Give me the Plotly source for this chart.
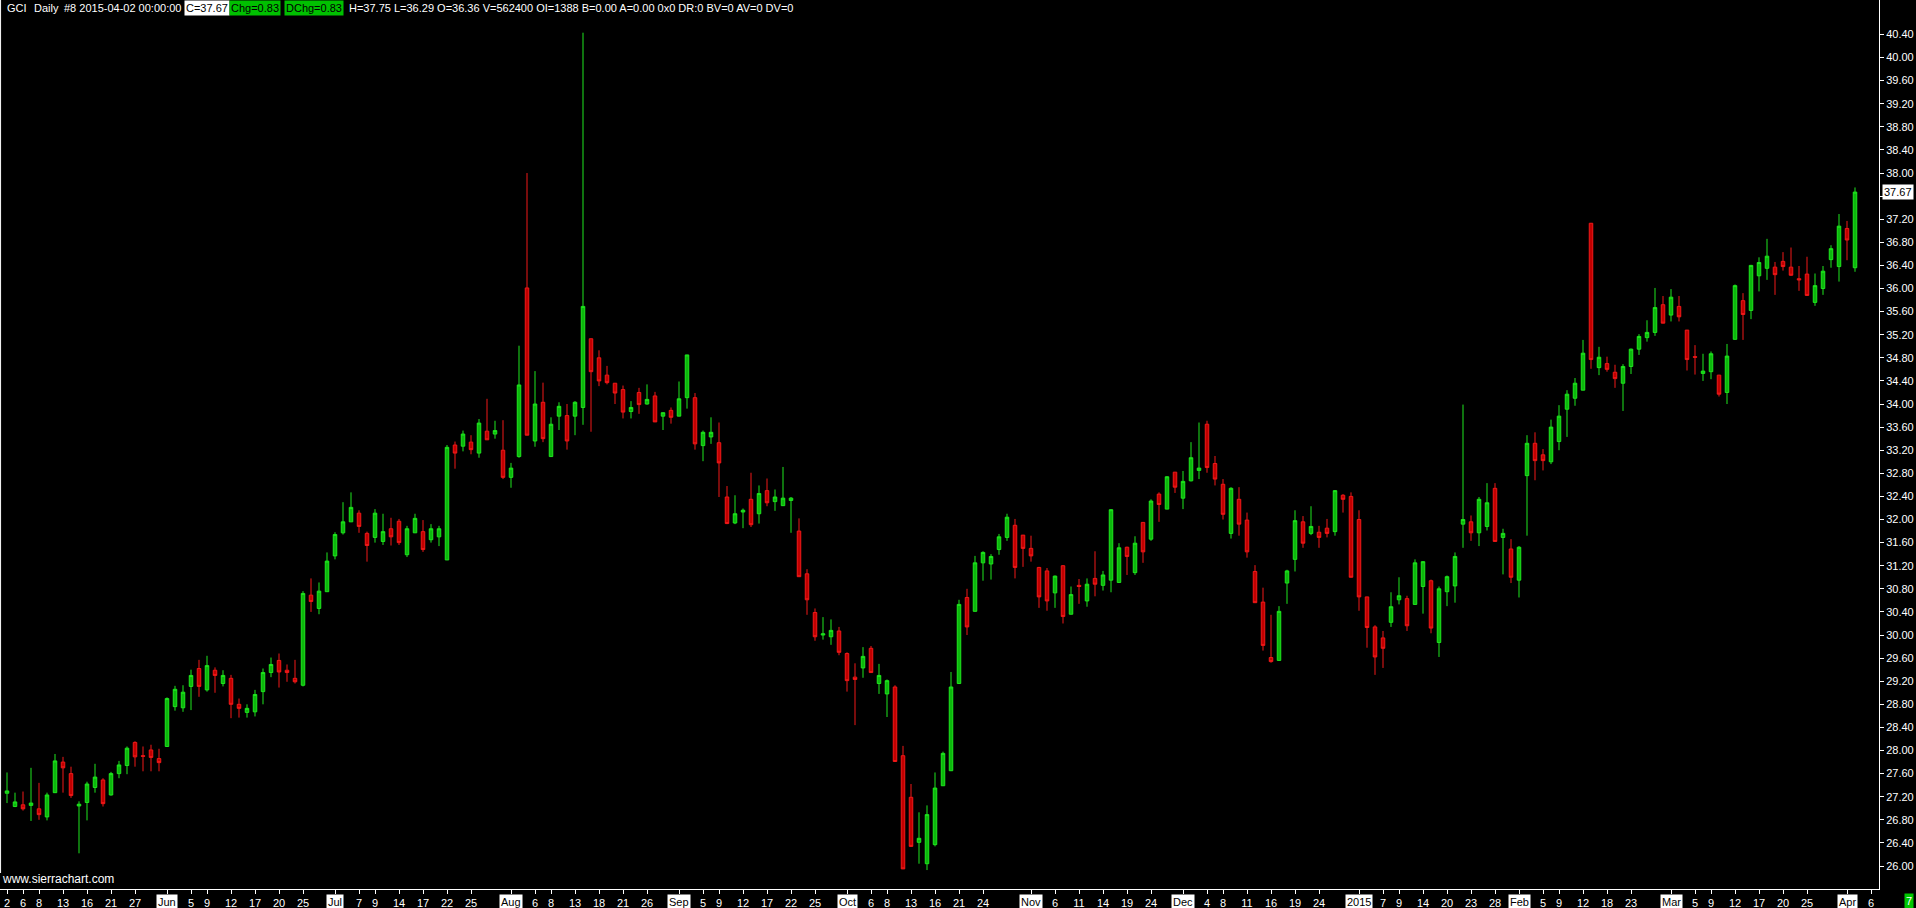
import pandas as pd
import plotly.graph_objects as go

# ---------------- data ----------------
opens = [27.26,27.03,27.06,27.05,26.99,26.85,27.27,27.80,27.60,27.04,27.10,27.36,27.49,27.23,27.60,27.74,28.14,27.91,28.01,27.86,
         28.07,28.76,28.74,29.11,29.42,29.05,29.39,29.16,29.25,28.80,28.66,28.67,29.02,29.35,29.56,29.39,29.25,29.13,30.69,30.46,
         30.75,31.37,31.77,31.96,32.11,31.76,31.69,31.62,31.84,31.97,31.39,31.77,31.79,31.65,31.70,31.30,33.29,33.27,33.34,33.15,
         33.53,33.48,33.20,32.73,33.09,36.01,33.36,34.03,33.09,33.79,33.80,33.79,33.94,35.13,34.80,34.50,34.36,34.25,33.87,34.20,
         34.00,34.14,33.79,33.89,33.79,34.11,34.11,33.28,33.43,33.33,32.39,31.94,32.13,32.35,32.10,32.50,32.31,32.24,32.33,31.80,
         31.06,30.39,30.00,29.97,30.07,29.68,29.27,29.43,29.77,29.16,28.98,29.10,27.91,27.19,26.41,26.04,26.37,27.39,27.65,29.16,
         30.65,30.41,31.25,31.23,31.48,31.69,31.90,31.73,31.50,31.17,31.11,30.73,31.20,30.36,30.86,30.59,30.98,30.86,30.95,30.91,
         31.52,31.08,31.95,31.66,32.44,32.18,32.82,32.37,32.67,32.85,33.65,32.97,32.61,31.76,32.35,31.99,31.10,30.57,29.61,29.56,
         30.90,31.31,31.96,31.76,31.78,31.85,31.79,32.42,32.40,32.00,30.66,30.14,29.95,30.22,30.61,30.63,30.53,30.84,30.94,29.87,
         30.75,30.85,31.92,31.96,31.77,31.88,32.54,31.69,31.49,30.95,32.76,33.32,33.12,33.00,33.35,33.91,34.10,34.24,37.13,34.63,
         34.70,34.55,34.36,34.65,34.95,35.15,35.24,35.72,35.54,35.69,35.28,34.82,34.53,34.56,34.50,34.20,35.12,35.79,35.62,36.22,
         36.35,36.37,36.47,36.37,36.17,36.25,35.76,36.00,36.50,36.38,37.04,36.36]
highs = [27.62,27.27,27.29,27.70,27.44,27.27,27.94,27.89,27.72,27.12,27.46,27.77,27.52,27.63,27.82,28.07,28.16,28.07,28.10,28.03,
         28.92,29.12,29.13,29.40,29.57,29.64,29.44,29.39,29.31,28.90,28.80,29.05,29.42,29.61,29.68,29.49,29.57,30.76,30.98,30.91,
         31.43,31.78,32.30,32.47,32.16,31.79,32.18,32.10,32.03,32.01,31.89,32.10,31.99,31.92,31.89,33.29,33.35,33.54,33.46,33.74,
         34.09,33.71,33.72,32.98,35.01,38.00,34.57,34.37,33.77,34.03,34.00,34.05,40.43,35.13,34.93,34.66,34.36,34.32,34.05,34.28,
         34.34,34.21,33.85,33.94,34.39,34.85,34.19,33.54,33.77,33.68,32.58,32.42,32.19,32.81,32.59,32.71,32.52,32.91,32.39,32.02,
         31.14,30.46,30.31,30.27,30.14,29.70,29.51,29.79,29.81,29.50,29.23,29.13,28.08,27.42,26.93,27.05,27.62,27.98,29.36,30.61,
         30.80,31.37,31.45,31.40,31.75,32.10,32.01,31.73,31.72,31.18,31.16,31.03,31.21,30.84,30.97,30.98,31.45,31.11,32.18,31.59,
         31.53,31.71,31.95,32.35,32.47,32.75,32.82,32.84,33.34,33.68,33.71,33.10,32.70,32.56,32.56,32.12,31.21,30.82,30.35,30.50,
         31.13,32.16,32.06,32.23,31.89,32.01,32.51,32.44,32.47,32.16,30.66,30.17,30.07,30.74,31.00,30.68,31.31,31.28,30.96,30.84,
         31.03,31.43,33.99,32.07,32.39,32.63,32.63,31.84,31.66,31.54,33.46,33.51,33.22,33.73,33.98,34.24,34.45,35.11,37.13,34.99,
         34.82,34.68,34.69,34.96,35.21,35.45,36.01,35.87,35.99,35.87,35.28,35.02,34.87,34.91,34.50,35.04,36.07,35.92,36.41,36.54,
         36.86,36.46,36.63,36.71,36.39,36.55,36.26,36.39,36.75,37.29,37.17,37.75]
lows = [27.09,27.02,26.96,26.78,26.80,26.79,27.27,27.27,27.18,26.22,26.79,27.27,27.03,27.22,27.52,27.59,27.72,27.64,27.64,27.64,
        28.07,28.69,28.67,28.70,28.93,29.02,29.00,29.11,28.56,28.57,28.57,28.59,28.80,29.27,29.09,29.19,29.16,29.11,30.40,30.36,
        30.75,31.31,31.74,31.96,31.77,31.27,31.60,31.56,31.55,31.56,31.35,31.77,31.44,31.60,31.54,31.30,32.88,33.18,33.13,33.07,
        33.38,33.40,32.70,32.55,33.07,33.46,33.26,33.34,33.09,33.55,33.21,33.46,33.64,33.52,34.31,34.34,34.00,33.75,33.75,33.83,
        33.99,33.69,33.55,33.66,33.79,33.92,33.21,33.01,33.31,32.39,31.92,31.92,31.85,31.87,31.93,32.23,32.15,32.24,31.77,31.01,
        30.35,29.90,29.92,29.83,29.65,29.02,28.44,29.26,29.35,28.98,28.58,27.81,25.95,26.34,26.04,25.93,26.34,27.39,27.65,29.16,
        30.00,30.41,30.94,30.96,31.39,31.63,30.98,31.18,31.27,30.47,30.42,30.47,30.20,30.36,30.54,30.49,30.67,30.77,30.74,30.91,
        31.04,31.04,31.25,31.63,31.96,32.18,32.46,32.18,32.66,32.70,32.81,32.59,32.00,31.67,31.72,31.34,30.56,29.73,29.52,29.56,
        30.54,31.10,31.51,31.73,31.51,31.69,31.72,32.12,31.00,30.42,29.78,29.31,29.43,30.14,30.53,30.07,30.53,30.37,30.03,29.62,
        30.50,30.56,31.51,31.63,31.54,31.81,31.62,31.05,30.90,30.65,31.72,32.68,32.85,32.96,33.20,33.43,33.97,34.24,34.61,34.50,
        34.56,34.28,33.88,34.52,34.85,35.08,35.18,35.40,35.43,35.43,34.58,34.51,34.40,34.43,34.13,34.00,35.12,35.11,35.47,35.95,
        36.15,35.89,36.31,36.22,35.96,35.88,35.70,35.89,36.36,36.12,36.49,36.29]
closes = [27.30,27.11,26.99,27.09,26.89,27.23,27.82,27.70,27.22,27.07,27.42,27.54,27.08,27.60,27.75,28.04,27.89,27.90,27.88,27.79,
          28.90,29.06,29.01,29.30,29.11,29.47,29.30,29.30,28.80,28.73,28.73,28.97,29.35,29.49,29.36,29.35,29.19,30.72,30.58,30.76,
          31.28,31.74,31.96,32.21,31.88,31.55,32.11,31.79,31.70,31.60,31.84,32.02,31.48,31.84,31.84,33.25,33.15,33.48,33.21,33.67,
          33.38,33.54,32.73,32.89,34.33,33.46,34.00,33.40,33.65,33.96,33.36,34.03,35.69,34.56,34.40,34.37,34.19,33.86,33.94,33.99,
          34.08,33.69,33.85,33.77,34.09,34.85,33.31,33.51,33.51,32.98,31.93,32.10,32.16,31.91,32.45,32.29,32.39,32.37,32.37,31.01,
          30.61,29.97,30.02,30.08,29.70,29.21,29.23,29.63,29.35,29.30,29.21,27.81,25.95,26.34,26.48,26.89,27.35,27.95,29.10,30.53,
          30.14,31.25,31.43,31.36,31.70,32.04,31.17,31.50,31.37,30.66,30.59,31.02,30.32,30.70,30.84,30.88,30.88,31.04,32.17,31.51,
          31.36,31.59,31.44,32.32,32.26,32.74,32.56,32.66,33.07,32.89,32.90,32.70,32.09,32.54,31.92,31.44,30.56,29.82,29.54,30.41,
          31.11,31.98,31.59,31.88,31.69,31.76,32.50,32.35,31.00,30.66,30.13,29.62,29.77,30.49,30.68,30.16,31.25,31.27,30.12,30.80,
          31.01,31.36,32.00,31.77,32.35,32.29,31.62,31.76,31.00,31.52,33.32,33.02,33.02,33.60,33.79,34.17,34.36,34.88,34.77,34.81,
          34.60,34.44,34.65,34.95,35.17,35.24,35.67,35.40,35.85,35.51,34.77,34.81,34.57,34.87,34.17,34.83,36.05,35.55,36.40,36.45,
          36.56,36.24,36.38,36.23,36.15,35.88,36.05,36.30,36.69,37.08,36.84,37.67]

symbol = "GCI"
volume = 562400
open_interest = 1388

holidays = ["2014-05-26", "2014-07-04", "2014-09-01", "2014-11-27", "2014-12-25",
            "2015-01-01", "2015-01-19", "2015-02-16"]
dates = [d.strftime("%Y-%m-%d") for d in pd.bdate_range("2014-05-02", "2015-04-02")
         if d.strftime("%Y-%m-%d") not in holidays]
future_dates = ["2015-04-03", "2015-04-06"]
all_dates = dates + future_dates

tick_dates = ["2014-05-02", "2014-05-06", "2014-05-08", "2014-05-13", "2014-05-16", "2014-05-21", "2014-05-27",
              "2014-06-02", "2014-06-05", "2014-06-09", "2014-06-12", "2014-06-17", "2014-06-20", "2014-06-25",
              "2014-07-01", "2014-07-07", "2014-07-09", "2014-07-14", "2014-07-17", "2014-07-22", "2014-07-25",
              "2014-08-01", "2014-08-06", "2014-08-08", "2014-08-13", "2014-08-18", "2014-08-21", "2014-08-26",
              "2014-09-02", "2014-09-05", "2014-09-09", "2014-09-12", "2014-09-17", "2014-09-22", "2014-09-25",
              "2014-10-01", "2014-10-06", "2014-10-08", "2014-10-13", "2014-10-16", "2014-10-21", "2014-10-24",
              "2014-11-03", "2014-11-06", "2014-11-11", "2014-11-14", "2014-11-19", "2014-11-24",
              "2014-12-01", "2014-12-04", "2014-12-08", "2014-12-11", "2014-12-16", "2014-12-19", "2014-12-24",
              "2015-01-02", "2015-01-07", "2015-01-09", "2015-01-14", "2015-01-20", "2015-01-23", "2015-01-28",
              "2015-02-02", "2015-02-05", "2015-02-09", "2015-02-12", "2015-02-18", "2015-02-23",
              "2015-03-02", "2015-03-05", "2015-03-09", "2015-03-12", "2015-03-17", "2015-03-20", "2015-03-25",
              "2015-04-01", "2015-04-06"]
month_labels = {"2014-06-02": "Jun", "2014-07-01": "Jul", "2014-08-01": "Aug", "2014-09-02": "Sep",
                "2014-10-01": "Oct", "2014-11-03": "Nov", "2014-12-01": "Dec", "2015-01-02": "2015",
                "2015-02-02": "Feb", "2015-03-02": "Mar", "2015-04-01": "Apr"}
current_day_label = "7"

price_ticks = [round(26.00 + 0.40 * k, 2) for k in range(37)]

# ---------------- figure ----------------
idx = list(range(len(dates)))
pos = {d: i for i, d in enumerate(all_dates)}
tick_idx = [pos[d] for d in tick_dates]
tick_text = ["" if d in month_labels else str(int(d[-2:])) for d in tick_dates]

W, H = 1916, 908
ML, MR, MT, MB = 0, 37, 0, 19
PW, PH = W - ML - MR, H - MT - MB
FONT = "Liberation Sans, Arial, sans-serif"

fig = go.Figure(go.Candlestick(
    x=idx, open=opens, high=highs, low=lows, close=closes,
    increasing=dict(line=dict(color="#1ee61e", width=1), fillcolor="#0cb80c"),
    decreasing=dict(line=dict(color="#f01818", width=1), fillcolor="#c20000"),
    whiskerwidth=0, hoverinfo="skip"))

fig.update_layout(
    width=W, height=H, margin=dict(l=ML, r=MR, t=MT, b=MB),
    paper_bgcolor="black", plot_bgcolor="black", showlegend=False, boxgap=0.375,
    font=dict(family=FONT, size=11, color="white"))

# the 37.60 label sits under the current-price box in the reference
last_close = closes[-1]
y_text = ["" if abs(v - last_close) < 0.1 else f"{v:.2f}" for v in price_ticks]

fig.update_xaxes(range=[-0.875, 234.0], rangeslider_visible=False, tickmode="array",
                 tickvals=tick_idx, ticktext=tick_text, ticks="outside", ticklen=4, tickcolor="white",
                 showline=True, linecolor="white", linewidth=1, showgrid=False, zeroline=False,
                 tickfont=dict(family=FONT, size=11, color="white"))
fig.update_yaxes(side="right", range=[25.602, 40.996], tickmode="array", tickvals=price_ticks,
                 ticktext=y_text, ticks="outside", ticklen=4, tickcolor="white",
                 showline=True, linecolor="white", linewidth=1, showgrid=False, zeroline=False,
                 tickfont=dict(family=FONT, size=11, color="white"))

ann = []
for d, lab in month_labels.items():
    ann.append(dict(x=pos[d], xref="x", y=0, yref="paper", yanchor="top", yshift=-5,
                    text=lab, showarrow=False, bgcolor="white", borderpad=1,
                    font=dict(family=FONT, size=11, color="black")))

# current price box
ann.append(dict(x=1, xref="paper", xanchor="left", xshift=3, y=last_close, yref="y",
                text=f"{last_close:.2f}", showarrow=False, bgcolor="white", borderpad=1,
                font=dict(family=FONT, size=11, color="black")))
# current day marker
ann.append(dict(x=1908.5 / PW, xref="paper", xanchor="center", y=0, yref="paper", yanchor="top", yshift=-4,
                text=current_day_label, showarrow=False, bgcolor="#00c800", borderpad=1,
                font=dict(family=FONT, size=11, color="white")))
# watermark
ann.append(dict(x=0, xref="paper", xanchor="left", xshift=0, y=0, yref="paper", yanchor="bottom", yshift=1,
                text="www.sierrachart.com", showarrow=False,
                font=dict(family=FONT, size=12, color="white")))

# header
chg = closes[-1] - closes[-2]
header = [
    (5, symbol, None, "white"),
    (32, "Daily", None, "white"),
    (62, "#8 " + dates[-1] + " 00:00:00", None, "white"),
    (184, f"C={closes[-1]:.2f}", "white", "black"),
    (229, f"Chg={chg:.2f}", "#00c000", "black"),
    (284, f"DChg={chg:.2f}", "#00c000", "black"),
    (347, f"H={highs[-1]:.2f} L={lows[-1]:.2f} O={opens[-1]:.2f} V={volume} OI={open_interest} "
          f"B=0.00 A=0.00 0x0 DR:0 BV=0 AV=0 DV=0", None, "white"),
]
for px, txt, bg, col in header:
    a = dict(x=px / PW, xref="paper", xanchor="left", y=1, yref="paper", yanchor="top",
             text=txt, showarrow=False, borderpad=1, font=dict(family=FONT, size=11, color=col))
    if bg:
        a["bgcolor"] = bg
    ann.append(a)

fig.update_layout(annotations=ann)

# left border of the chart region
fig.add_shape(type="line", xref="paper", yref="paper", x0=0.0003, x1=0.0003, y0=16 / PH, y1=1,
              line=dict(color="white", width=1))

fig.write_html("out.html", config={"displayModeBar": False},
               post_script="document.body.style.margin='0px';document.body.style.overflow='hidden';")
